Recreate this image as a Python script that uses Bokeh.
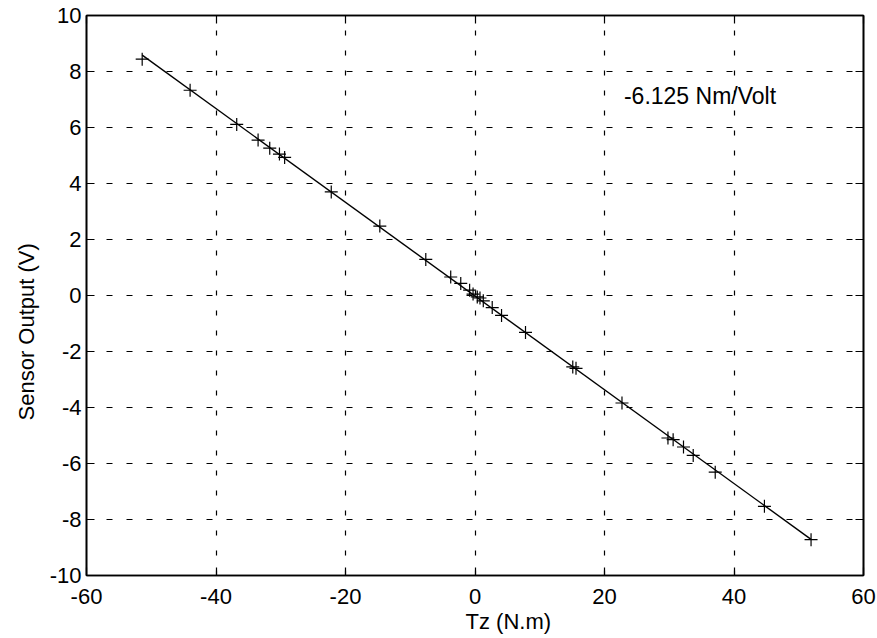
import numpy as np
from bokeh.plotting import figure
from bokeh.models import LinearAxis, FixedTicker, Range1d, Title, CustomLabelingPolicy
from bokeh.core.properties import value
from bokeh.embed import file_html
from bokeh.resources import INLINE

# Data
torque = [-51.4, -44.0, -36.8, -33.5, -31.7, -30.2, -29.4, -22.2, -14.7, -7.6,
          -3.75, -2.2, -0.83, -0.3, 0.35, 0.77, 1.28, 2.66, 4.1, 7.8,
          15.1, 15.6, 22.7, 29.8, 30.6, 32.2, 33.7, 37.1, 44.7, 51.9]
volts = [8.44, 7.33, 6.11, 5.55, 5.26, 5.05, 4.93, 3.70, 2.48, 1.29,
         0.66, 0.43, 0.19, 0.05, -0.05, -0.09, -0.19, -0.43, -0.71, -1.32,
         -2.55, -2.60, -3.84, -5.09, -5.15, -5.41, -5.71, -6.31, -7.53, -8.72]
x_ticks = [-60, -40, -20, 0, 20, 40, 60]
y_ticks = [-10, -8, -6, -4, -2, 0, 2, 4, 6, 8, 10]
annotation = "-6.125 Nm/Volt"
x_title = "Tz (N.m)"
y_title = "Sensor Output (V)"

FONT = "Liberation Sans"

p = figure(width=877, height=638, output_backend="svg", toolbar_location=None,
           x_range=Range1d(-60, 60), y_range=Range1d(-10, 10),
           min_border_left=86, min_border_right=14, min_border_top=15, min_border_bottom=63)
p.background_fill_color = "white"
p.border_fill_color = "white"
p.outline_line_color = "black"
p.outline_line_width = 1.6

# grid
p.xgrid.ticker = FixedTicker(ticks=x_ticks)
p.ygrid.ticker = FixedTicker(ticks=y_ticks)
p.xgrid[0].grid_line_dash = "5 15"
p.ygrid[0].grid_line_dash = "6 14"
for g in (p.xgrid[0], p.ygrid[0]):
    g.grid_line_color = "black"
    g.grid_line_width = 1.2

# fit line through data and markers
coef = np.polyfit(torque, volts, 1)
xs = np.array([min(torque), max(torque)])
p.line(xs, np.polyval(coef, xs), line_color="black", line_width=1.4)
p.scatter(torque, volts, marker="cross", size=13, line_color="black", line_width=1.2)

p.text(x=[23.0], y=[7.6], text=[annotation], text_font=value(FONT),
       text_font_size="23px", text_baseline="top", text_align="left", text_color="black")

def style(ax, ticks):
    ax.ticker = FixedTicker(ticks=ticks)
    ax.major_tick_in = 8
    ax.major_tick_out = 0
    ax.minor_tick_in = 0
    ax.minor_tick_out = 0
    ax.axis_line_color = "black"
    ax.axis_line_width = 1.6
    ax.major_tick_line_width = 1.2
    ax.major_label_overrides = {t: str(t) for t in ticks}

style(p.xaxis[0], x_ticks)
style(p.yaxis[0], y_ticks)
for ax in (p.xaxis[0], p.yaxis[0]):
    ax.major_label_text_font = FONT
    ax.major_label_text_font_size = "22px"
    ax.major_label_text_color = "black"
p.xaxis[0].major_label_standoff = 13
p.yaxis[0].major_label_standoff = 5

# tick-only axes on top and right (box with inward ticks, no labels)
for side, ticks in (("right", y_ticks), ("above", x_ticks)):
    ax = LinearAxis()
    style(ax, ticks)
    ax.major_label_policy = CustomLabelingPolicy(code="return []")
    ax.major_label_text_font_size = "0px"
    ax.major_label_standoff = 0
    p.add_layout(ax, side)

# axis titles placed as in the reference (offset from the frame's start)
p.add_layout(Title(text=x_title, align="left", offset=379, standoff=0,
                   text_font=FONT, text_font_size="22px", text_font_style="normal",
                   text_color="black"), "below")
p.add_layout(Title(text=y_title, align="left", offset=155, standoff=16,
                   text_font=FONT, text_font_size="22px", text_font_style="normal",
                   text_color="black"), "left")

open("out.html", "w").write(file_html(p, INLINE))
